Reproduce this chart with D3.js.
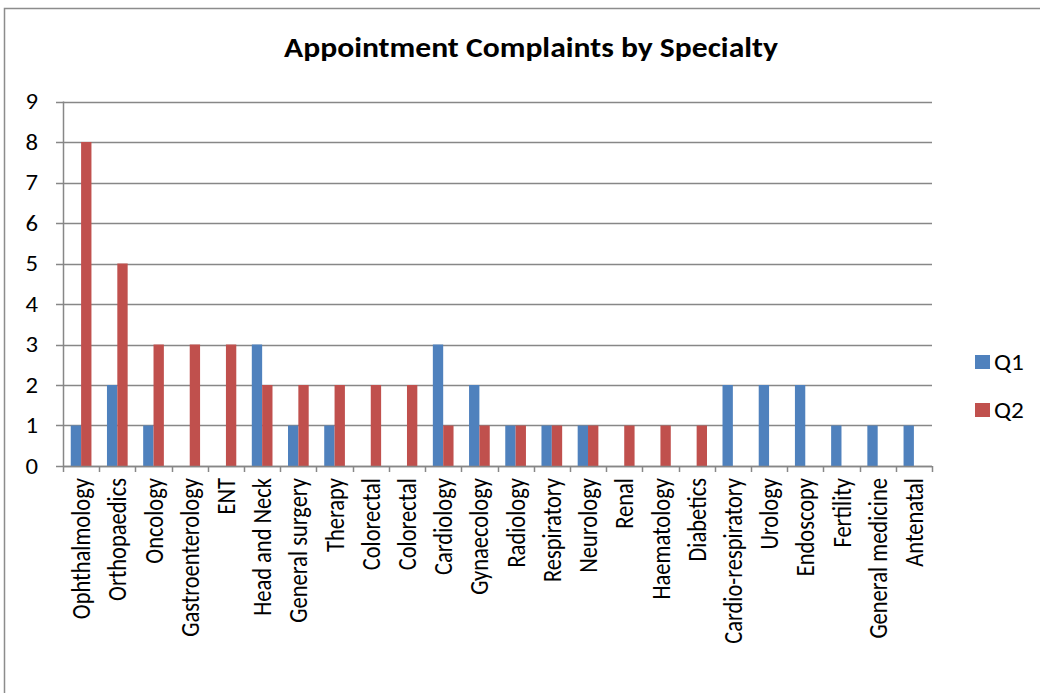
<!DOCTYPE html>
<html>
<head>
<meta charset="utf-8">
<script src="https://cdn.jsdelivr.net/npm/d3@7"></script>
<style>
  html, body { margin: 0; padding: 0; background: #fff; }
  svg { display: block; font-family: Carlito, Lato, "Open Sans", sans-serif; }
</style>
</head>
<body>
<svg id="chart" width="1040" height="693"></svg>
<script>
// Complaints per specialty, two quarters
const categories = ["Ophthalmology", "Orthopaedics", "Oncology", "Gastroenterology", "ENT",
  "Head and Neck", "General surgery", "Therapy", "Colorectal", "Colorectal", "Cardiology",
  "Gynaecology", "Radiology", "Respiratory", "Neurology", "Renal", "Haematology", "Diabetics",
  "Cardio-respiratory", "Urology", "Endoscopy", "Fertility", "General medicine", "Antenatal"];
const q1 = [1, 2, 1, 0, 0, 3, 1, 1, 0, 0, 3, 2, 1, 1, 1, 0, 0, 0, 2, 2, 2, 1, 1, 1];
const q2 = [8, 5, 3, 3, 3, 2, 2, 2, 2, 2, 1, 1, 1, 1, 1, 1, 1, 1, 0, 0, 0, 0, 0, 0];
const seriesNames = ["Q1", "Q2"];
const yTicks = [0, 1, 2, 3, 4, 5, 6, 7, 8, 9];

const colors = ["#4F81BD", "#C0504D"];
const gridColor = "#878787";
const widen = 1.15; // glyphs are drawn a little wider than tall

const svg = d3.select("#chart");

// Outer chart frame
svg.append("rect")
  .attr("x", 4.5).attr("y", 8.5)
  .attr("width", 1100).attr("height", 800)
  .attr("fill", "#fff").attr("stroke", "#8c8c8c").attr("stroke-width", 1.5);

const plot = { left: 63, right: 932, top: 101.5, bottom: 466 };

const x = d3.scaleBand()
  .domain(d3.range(categories.length))
  .range([plot.left, plot.right])
  .paddingInner(0).paddingOuter(0);

const y = d3.scaleLinear().domain([0, 9]).range([plot.bottom, plot.top]);

// Horizontal gridlines with short ticks left of the axis
svg.append("g")
  .selectAll("line")
  .data(yTicks)
  .join("line")
  .attr("x1", plot.left - 7).attr("x2", plot.right)
  .attr("y1", d => Math.round(y(d)) + 0.5).attr("y2", d => Math.round(y(d)) + 0.5)
  .attr("stroke", gridColor).attr("stroke-width", 1.5);

// Y labels
svg.append("g")
  .selectAll("text")
  .data(yTicks)
  .join("text")
  .attr("transform", d => `translate(38,${y(d)}) scale(${widen},1)`)
  .attr("dy", "0.35em")
  .attr("text-anchor", "end")
  .attr("font-size", 21.5)
  .attr("fill", "#000")
  .text(d => d);

// Bars: two series per category, 150% gap
const bw = x.bandwidth() / 3.5;
const groups = svg.append("g");
[q1, q2].forEach((vals, si) => {
  groups.append("g")
    .selectAll("rect")
    .data(vals)
    .join("rect")
    .attr("x", (d, i) => x(i) + x.bandwidth() / 2 - bw + si * bw)
    .attr("y", d => y(d))
    .attr("width", bw)
    .attr("height", d => y(0) - y(d))
    .attr("fill", colors[si]);
});

// Y axis line
svg.append("line")
  .attr("x1", plot.left + 0.5).attr("x2", plot.left + 0.5)
  .attr("y1", plot.top).attr("y2", plot.bottom)
  .attr("stroke", gridColor).attr("stroke-width", 1.5);

// X axis line and category ticks
svg.append("line")
  .attr("x1", plot.left).attr("x2", plot.right)
  .attr("y1", Math.round(y(0)) + 0.5).attr("y2", Math.round(y(0)) + 0.5)
  .attr("stroke", gridColor).attr("stroke-width", 1.5);
svg.append("g")
  .selectAll("line")
  .data(d3.range(categories.length + 1))
  .join("line")
  .attr("x1", i => Math.round(plot.left + i * x.step()) + 0.5)
  .attr("x2", i => Math.round(plot.left + i * x.step()) + 0.5)
  .attr("y1", y(0)).attr("y2", y(0) + 6)
  .attr("stroke", gridColor).attr("stroke-width", 1.5);

// Rotated category labels
svg.append("g")
  .selectAll("text")
  .data(categories)
  .join("text")
  .attr("transform", (d, i) => `translate(${x(i) + x.bandwidth() / 2},478) scale(${widen},1) rotate(-90)`)
  .attr("dy", "0.35em")
  .attr("text-anchor", "end")
  .attr("font-size", 22.5)
  .attr("fill", "#000")
  .text(d => d);

// Title
svg.append("text")
  .attr("transform", `translate(531,57) scale(${widen},1)`)
  .attr("text-anchor", "middle")
  .attr("font-size", 27.5)
  .attr("font-weight", "bold")
  .attr("fill", "#000")
  .text("Appointment Complaints by Specialty");

// Legend
const legend = svg.append("g");
seriesNames.forEach((name, i) => {
  const ly = 355 + i * 48;
  legend.append("rect")
    .attr("x", 975).attr("y", ly).attr("width", 15).attr("height", 14)
    .attr("fill", colors[i]);
  legend.append("text")
    .attr("transform", `translate(994,${ly + 7}) scale(${widen},1)`)
    .attr("dy", "0.35em")
    .attr("font-size", 22)
    .attr("fill", "#000")
    .text(name);
});
</script>
</body>
</html>
